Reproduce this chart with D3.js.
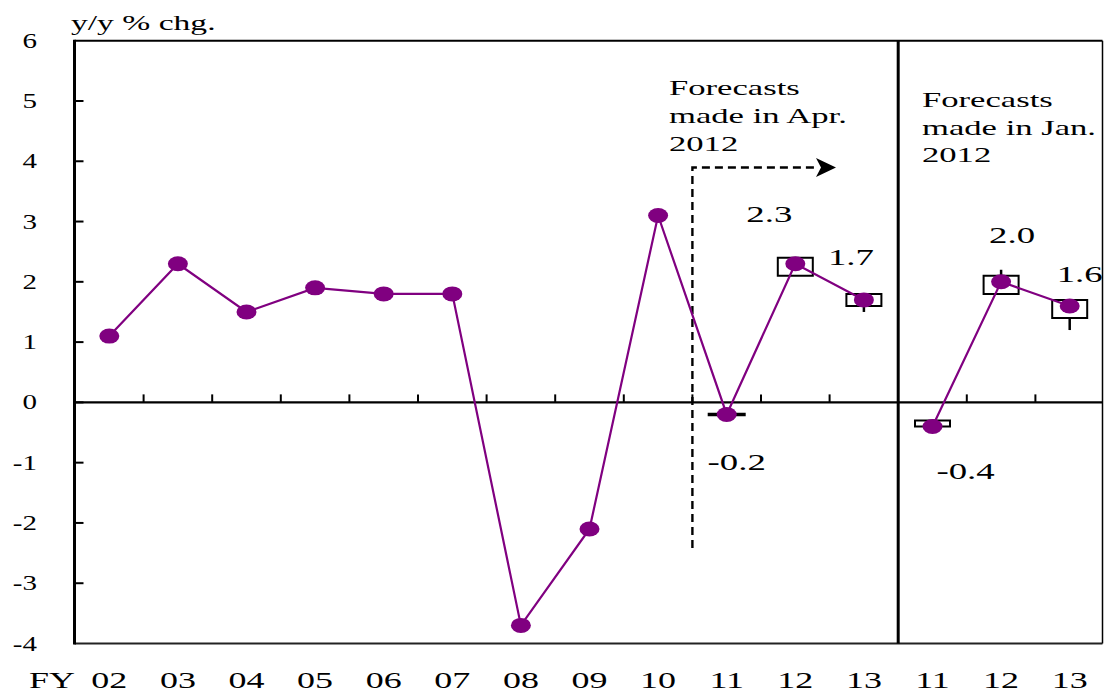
<!DOCTYPE html>
<html>
<head>
<meta charset="utf-8">
<script src="https://cdn.jsdelivr.net/npm/d3@7/dist/d3.min.js"></script>
<style>
  html, body { margin: 0; padding: 0; background: #fff; }
  svg { display: block; }
  text { font-family: "Liberation Serif", "Times New Roman", serif; fill: #000; }
</style>
</head>
<body>
<svg id="chart" width="1104" height="692"></svg>
<script>
// ---------- data ----------
const aprYears  = ["02","03","04","05","06","07","08","09","10","11","12","13"];
const aprValues = [1.1, 2.3, 1.5, 1.9, 1.8, 1.8, -3.7, -2.1, 3.1, -0.2, 2.3, 1.7];
const janYears  = ["11","12","13"];
const janValues = [-0.4, 2.0, 1.6];

// policy board forecast ranges (majority = box, all members = whisker)
const aprBoxLow   = [-0.2, 2.1, 1.6];
const aprBoxHigh  = [-0.2, 2.4, 1.8];
const aprAllLow   = [-0.2, 2.1, 1.5];
const aprAllHigh  = [-0.2, 2.4, 1.8];
const janBoxLow   = [-0.4, 1.8, 1.4];
const janBoxHigh  = [-0.3, 2.1, 1.7];
const janAllLow   = [-0.4, 1.8, 1.2];
const janAllHigh  = [-0.3, 2.2, 1.7];

const tickLabels  = aprYears.concat(janYears);
const yTicks      = [6, 5, 4, 3, 2, 1, 0, -1, -2, -3, -4];
const valueLabels = ["-0.2", "2.3", "1.7", "-0.4", "2.0", "1.6"];
const aprNote = ["Forecasts", "made in Apr.", "2012"];
const janNote = ["Forecasts", "made in Jan.", "2012"];

// ---------- layout ----------
const svg = d3.select("#chart");
const purple = "#800080";
const SX = 1.6; // horizontal stretch of the original lettering

const x = d3.scaleBand().domain(d3.range(tickLabels.length)).range([75, 1104]).padding(0);
const cx = i => x(i) + x.bandwidth() / 2;
const y = d3.scaleLinear().domain([-4, 6]).range([643.5, 40.7]);

function label(txt, px, py, anchor, size, sx) {
  svg.append("text")
    .attr("transform", `translate(${px},${py}) scale(${sx === undefined ? SX : sx},1)`)
    .attr("text-anchor", anchor)
    .attr("font-size", size)
    .text(txt);
}

// ---------- frame ----------
const left = 74.5, right = 1102.5;
svg.append("line").attr("x1", left).attr("x2", right).attr("y1", y(6)).attr("y2", y(6))
  .attr("stroke", "#000").attr("stroke-width", 2);
svg.append("line").attr("x1", left).attr("x2", right).attr("y1", y(-4)).attr("y2", y(-4))
  .attr("stroke", "#222").attr("stroke-width", 2);
svg.append("line").attr("x1", right).attr("x2", right).attr("y1", y(6)).attr("y2", y(-4))
  .attr("stroke", "#000").attr("stroke-width", 1.5);
svg.append("line").attr("x1", left).attr("x2", left).attr("y1", y(6) - 1).attr("y2", y(-4) + 1)
  .attr("stroke", "#000").attr("stroke-width", 3);

// y ticks (inward) and labels
yTicks.forEach(v => {
  if (v !== 6 && v !== -4) {
    svg.append("line").attr("x1", left).attr("x2", left + 9).attr("y1", y(v)).attr("y2", y(v))
      .attr("stroke", "#000").attr("stroke-width", 2);
  }
  label(String(v), 37, y(v) + 7, "end", 20, 1.45);
});

// zero line with upward ticks at band boundaries
svg.append("line").attr("x1", left).attr("x2", right).attr("y1", y(0)).attr("y2", y(0))
  .attr("stroke", "#000").attr("stroke-width", 2.2);
d3.range(1, tickLabels.length).forEach(i => {
  if (i === 12) return;
  svg.append("line").attr("x1", x(i)).attr("x2", x(i)).attr("y1", y(0)).attr("y2", y(0) - 8)
    .attr("stroke", "#000").attr("stroke-width", 2);
});

// separator between Apr and Jan forecasts
svg.append("line").attr("x1", x(12)).attr("x2", x(12)).attr("y1", y(6)).attr("y2", y(-4))
  .attr("stroke", "#000").attr("stroke-width", 3);

// x tick labels
label("FY", 29, 688, "start", 22.5);
tickLabels.forEach((t, i) => label(t, cx(i), 688, "middle", 22.5));

// axis title
label("y/y % chg.", 71, 30, "start", 21, 1.6);

// ---------- dashed arrow (forecast start) ----------
const ax = x(9);
svg.append("path")
  .attr("d", `M${ax},548 V167.5 H818`)
  .attr("fill", "none").attr("stroke", "#000").attr("stroke-width", 2.4)
  .attr("stroke-dasharray", "8,5");
svg.append("path")
  .attr("d", `M816,158 L836,167.5 L816,177 L821,167.5 Z`)
  .attr("fill", "#000");

// notes
aprNote.forEach((t, k) => label(t, 669, 95 + k * 28, "start", 21, 1.65));
janNote.forEach((t, k) => label(t, 922, 107 + k * 27.5, "start", 21, 1.65));

// ---------- forecast ranges ----------
function drawRanges(startIdx, lo, hi, allLo, allHi) {
  lo.forEach((_, k) => {
    const c = cx(startIdx + k), hw = 17.5;
    const w = (lo[k] === hi[k]) ? 19 : hw;
    svg.append("path")
      .attr("d", `M${c - w},${y(hi[k])} H${c + w} V${y(lo[k])} H${c - w} Z`)
      .attr("fill", "none").attr("stroke", "#000")
      .attr("stroke-width", lo[k] === hi[k] ? 3.5 : 2);
    if (allHi[k] > hi[k]) {
      svg.append("line").attr("x1", c).attr("x2", c).attr("y1", y(hi[k])).attr("y2", y(allHi[k]))
        .attr("stroke", "#000").attr("stroke-width", 2.5);
    }
    if (allLo[k] < lo[k]) {
      svg.append("line").attr("x1", c).attr("x2", c).attr("y1", y(lo[k])).attr("y2", y(allLo[k]))
        .attr("stroke", "#000").attr("stroke-width", 2.5);
    }
  });
}
drawRanges(9, aprBoxLow, aprBoxHigh, aprAllLow, aprAllHigh);
drawRanges(12, janBoxLow, janBoxHigh, janAllLow, janAllHigh);

// ---------- series ----------
const aprData = aprValues.map((v, i) => ({ i, v }));
const janData = janValues.map((v, k) => ({ i: 12 + k, v }));
const line = d3.line().x(d => cx(d.i)).y(d => y(d.v));

[aprData, janData].forEach(data => {
  svg.append("path").datum(data).attr("d", line)
    .attr("fill", "none").attr("stroke", purple).attr("stroke-width", 2.2);
  svg.selectAll(null).data(data).enter().append("ellipse")
    .attr("cx", d => cx(d.i)).attr("cy", d => y(d.v))
    .attr("rx", 10).attr("ry", 7.5).attr("fill", purple);
});

// ---------- value labels ----------
const labelIdx = [9, 10, 11, 12, 13, 14];
const labelVals = [aprValues[9], aprValues[10], aprValues[11], janValues[0], janValues[1], janValues[2]];
const labelDx = [10, -26, -13, 33, 11, 10];
const labelDy = [56, -42, -35, 53, -39, -24];
labelIdx.forEach((idx, k) => {
  label(valueLabels[k], cx(idx) + labelDx[k], y(labelVals[k]) + labelDy[k], "middle", 23);
});
</script>
</body>
</html>
